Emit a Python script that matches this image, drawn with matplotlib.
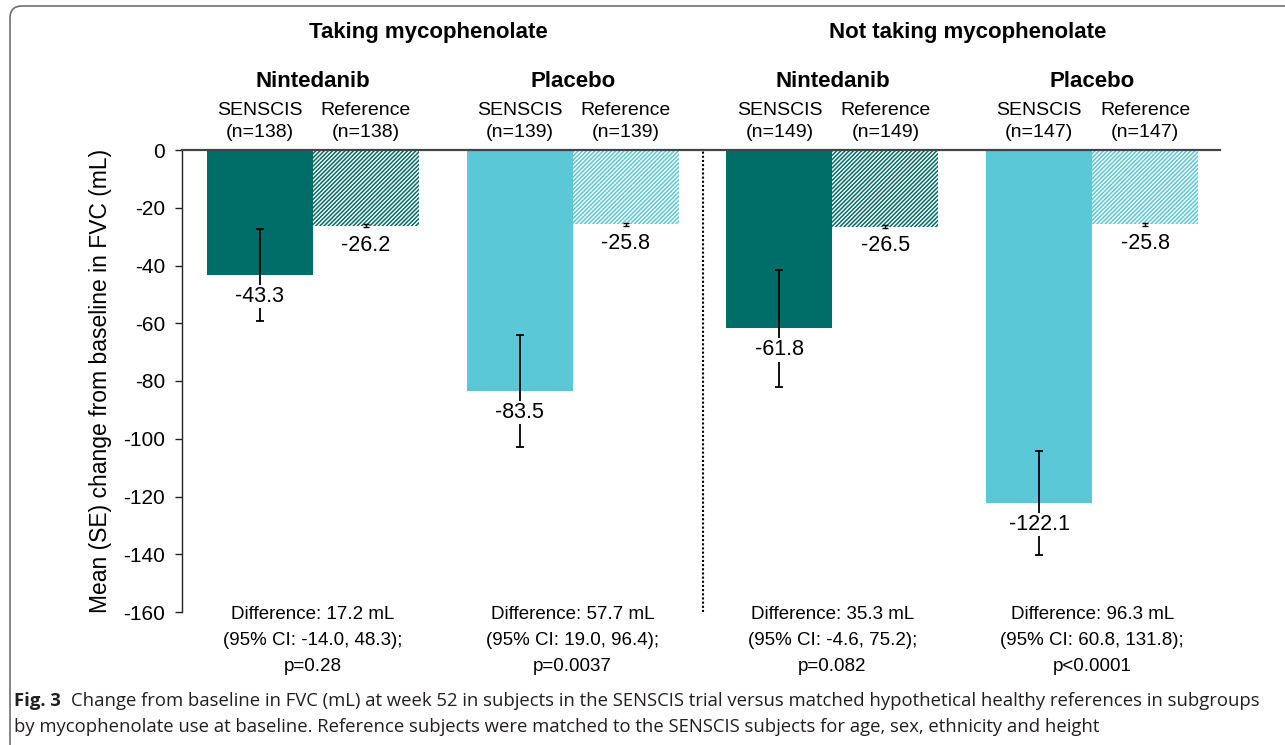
import matplotlib
matplotlib.use("Agg")
import matplotlib.pyplot as plt
from matplotlib.path import Path
from matplotlib.patches import PathPatch
import numpy as np

# ---------------- data ----------------
panels = ["Taking mycophenolate", "Not taking mycophenolate"]
treatments = ["Nintedanib", "Placebo", "Nintedanib", "Placebo"]
n_subjects = [138, 139, 149, 147]
senscis_mean = [-43.3, -83.5, -61.8, -122.1]
senscis_se = [15.8, 19.4, 20.2, 18.0]
reference_mean = [-26.2, -25.8, -26.5, -25.8]
reference_se = [0.6, 0.6, 0.6, 0.6]
diff_line1 = ["Difference: 17.2 mL", "Difference: 57.7 mL",
              "Difference: 35.3 mL", "Difference: 96.3 mL"]
diff_line2 = ["(95% CI: -14.0, 48.3);", "(95% CI: 19.0, 96.4);",
              "(95% CI: -4.6, 75.2);", "(95% CI: 60.8, 131.8);"]
diff_line3 = ["p=0.28", "p=0.0037", "p=0.082", "p<0.0001"]
yticks = [0, -20, -40, -60, -80, -100, -120, -140, -160]
ylabel = "Mean (SE) change from baseline in FVC (mL)"
caption_bold = "Fig. 3"
caption_line1 = ("Change from baseline in FVC (mL) at week 52 in subjects in the SENSCIS trial "
                 "versus matched hypothetical healthy references in subgroups")
caption_line2 = ("by mycophenolate use at baseline. Reference subjects were matched to the "
                 "SENSCIS subjects for age, sex, ethnicity and height")

# ---------------- style ----------------
DARK = "#006e68"
LIGHT = "#5ac8d6"
colors = [DARK, LIGHT, DARK, LIGHT]
plt.rcParams["font.family"] = ["Liberation Sans", "DejaVu Sans"]
plt.rcParams["hatch.linewidth"] = 1.1

W, H = 1285, 745
fig = plt.figure(figsize=(W / 100, H / 100), dpi=100)

def fx(px):
    return px / W

def fy(py):
    return 1 - py / H

ax = fig.add_axes([fx(182), fy(612), fx(1220) - fx(182), fy(150) - fy(612)])

x = np.arange(len(treatments))
bw = 0.408
xs = x - bw / 2
xr = x + bw / 2

ax.bar(xs, senscis_mean, width=bw, color=colors, linewidth=0, zorder=2)
for xi, m, c in zip(xr, reference_mean, colors):
    ax.bar(xi, m, width=bw, facecolor="white", edgecolor=c, hatch="////////",
           linewidth=0, zorder=2)

ax.errorbar(xs, senscis_mean, yerr=senscis_se, fmt="none", ecolor="black",
            elinewidth=1.3, capsize=3, capthick=1.3, zorder=3)
ax.errorbar(xr, reference_mean, yerr=reference_se, fmt="none", ecolor="black",
            elinewidth=1.0, capsize=2.5, capthick=1.0, zorder=3)

VAL_FS = 15.5
for xi, m in zip(xs, senscis_mean):
    ax.annotate(f"{m}", (xi, m), xytext=(0, -15.5), textcoords="offset points",
                ha="center", va="center", fontsize=VAL_FS, zorder=5,
                bbox=dict(boxstyle="square,pad=0.05", fc="white", ec="none"))
for xi, m in zip(xr, reference_mean):
    ax.annotate(f"{m}", (xi, m), xytext=(0, -14), textcoords="offset points",
                ha="center", va="center", fontsize=VAL_FS, zorder=5)

ax.axvline(1.5, ymin=0, ymax=1, color="black", linestyle=(0, (1, 1)), linewidth=1.5)

ax.set_xlim(-0.504, 3.492)
ax.set_ylim(-160, 0)
ax.set_yticks(yticks)
ax.set_yticklabels([str(t) for t in yticks], fontsize=15)
ax.set_xticks([])
for s in ["right", "bottom"]:
    ax.spines[s].set_visible(False)
ax.spines["top"].set_color("#444444")
ax.spines["top"].set_linewidth(1.6)
ax.spines["left"].set_color("#222222")
ax.spines["left"].set_linewidth(1.0)
ax.tick_params(axis="y", direction="out", length=5, width=1.0, pad=7, color="#222222")
fig.text(fx(101), fy(381), ylabel, rotation=90, ha="center", va="center", fontsize=16.5)

# ---------------- headers ----------------
fig.text(fx(428), fy(38), panels[0], ha="center", va="baseline", fontsize=16, fontweight="bold")
fig.text(fx(968), fy(38), panels[1], ha="center", va="baseline", fontsize=16, fontweight="bold")

def data_to_figx(xd):
    disp = ax.transData.transform((xd, 0))
    return fig.transFigure.inverted().transform(disp)[0]

SUB_FS = 14
DIFF_FS = 13.5
for i, t in enumerate(treatments):
    cx = data_to_figx(x[i])
    fig.text(cx, fy(87), t, ha="center", va="baseline", fontsize=16, fontweight="bold")
    fig.text(data_to_figx(xs[i]), fy(115), "SENSCIS", ha="center", va="baseline", fontsize=SUB_FS)
    fig.text(data_to_figx(xr[i]), fy(115), "Reference", ha="center", va="baseline", fontsize=SUB_FS)
    fig.text(data_to_figx(xs[i]), fy(137), f"(n={n_subjects[i]})", ha="center", va="baseline", fontsize=SUB_FS)
    fig.text(data_to_figx(xr[i]), fy(137), f"(n={n_subjects[i]})", ha="center", va="baseline", fontsize=SUB_FS)
    fig.text(cx, fy(619), diff_line1[i], ha="center", va="baseline", fontsize=DIFF_FS)
    fig.text(cx, fy(645), diff_line2[i], ha="center", va="baseline", fontsize=DIFF_FS)
    fig.text(cx, fy(671), diff_line3[i], ha="center", va="baseline", fontsize=DIFF_FS)

# ---------------- caption ----------------
cap_color = "#231f20"
CAP_FS = 13.3
t1 = fig.text(fx(14), fy(706), caption_bold, ha="left", va="baseline", fontsize=CAP_FS,
              fontweight="bold", family="Open Sans", color=cap_color)
ax.annotate(caption_line1, xy=(1, 0), xycoords=t1, xytext=(7, 0),
            textcoords="offset points", ha="left", va="bottom", fontsize=CAP_FS,
            family="Open Sans", color=cap_color, annotation_clip=False)
fig.text(fx(14), fy(732), caption_line2, ha="left", va="baseline", fontsize=CAP_FS,
         family="Open Sans", color=cap_color)

# ---------------- frame ----------------
r = 12
verts = [(10, 745), (10, 6 + r), (10, 6), (10 + r, 6), (1285, 6)]
codes = [Path.MOVETO, Path.LINETO, Path.CURVE3, Path.CURVE3, Path.LINETO]
verts_fig = [(fx(a), fy(b)) for a, b in verts]
frame = PathPatch(Path(verts_fig, codes), transform=fig.transFigure, fill=False,
                  edgecolor="#6e6e6e", linewidth=1.2)
fig.add_artist(frame)

fig.savefig("out.png", dpi=100)
